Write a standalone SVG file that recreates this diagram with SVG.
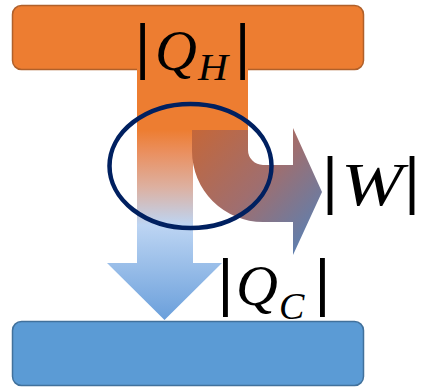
<svg xmlns="http://www.w3.org/2000/svg" width="422" height="387" viewBox="0 0 422 387">
  <defs>
    <style>
      .bar { font-family: "DejaVu Sans", sans-serif; fill: #000; text-anchor: middle; }
      .math { font-family: "Liberation Serif", "Times New Roman", serif; font-style: italic; fill: #000; }
    </style>
    <linearGradient id="gDown" gradientUnits="userSpaceOnUse" x1="0" y1="130" x2="0" y2="320">
      <stop offset="0" stop-color="#ED7D31"/>
      <stop offset="0.12" stop-color="#EA9060"/>
      <stop offset="0.3" stop-color="#DDB0A0"/>
      <stop offset="0.5" stop-color="#BDD5F3"/>
      <stop offset="1" stop-color="#6A9FDB"/>
    </linearGradient>
    <linearGradient id="gBent" gradientUnits="userSpaceOnUse" x1="195" y1="130" x2="315" y2="245">
      <stop offset="0" stop-color="#C4673A"/>
      <stop offset="0.5" stop-color="#A06E6E"/>
      <stop offset="1" stop-color="#5881B5"/>
    </linearGradient>
  </defs>

  <g id="hot-reservoir">
    <rect x="12.5" y="5.5" width="351" height="64" rx="9" fill="#ED7D31" stroke="#B0602A" stroke-width="1.5"/>
  </g>

  <g id="cold-reservoir">
    <rect x="12.5" y="321.5" width="351" height="64" rx="9" fill="#5B9BD5" stroke="#41719C" stroke-width="1.5"/>
  </g>

  <g id="connectors">
    <rect x="137" y="60" width="111" height="70.5" fill="#ED7D31"/>
    <path id="arrow-qc" d="M137,130 L193,130 L193,263 L222,263 L164.5,320 L107,263 L137,263 Z" fill="url(#gDown)"/>
    <path id="arrow-w" d="M192,130 L248,130 L248,150 A15,15 0 0 0 263,165 L293,165 L293,128 L322,192 L293,255 L293,222 L263,222 A71,71 0 0 1 192,151 Z" fill="url(#gBent)"/>
  </g>

  <g id="engine">
    <ellipse cx="190.5" cy="166" rx="81" ry="62" fill="none" stroke="#002060" stroke-width="4.5"/>
  </g>

  <g id="label-qh">
    <text class="bar" x="142.5" y="66.3" font-size="57">|</text>
    <text class="math" x="155" y="70" font-size="58">Q</text>
    <text class="math" x="198" y="80" font-size="37" textLength="30" lengthAdjust="spacingAndGlyphs">H</text>
    <text class="bar" x="242.5" y="66.3" font-size="57">|</text>
  </g>

  <g id="label-w">
    <text class="bar" x="330" y="201" font-size="58">|</text>
    <text class="math" x="341" y="205" font-size="62" textLength="62" lengthAdjust="spacingAndGlyphs">W</text>
    <text class="bar" x="412" y="201" font-size="58">|</text>
  </g>

  <g id="label-qc">
    <text class="bar" x="225.5" y="303" font-size="59">|</text>
    <text class="math" x="236" y="305" font-size="58">Q</text>
    <text class="math" x="279" y="319" font-size="38">C</text>
    <text class="bar" x="322.5" y="303" font-size="59">|</text>
  </g>
</svg>
